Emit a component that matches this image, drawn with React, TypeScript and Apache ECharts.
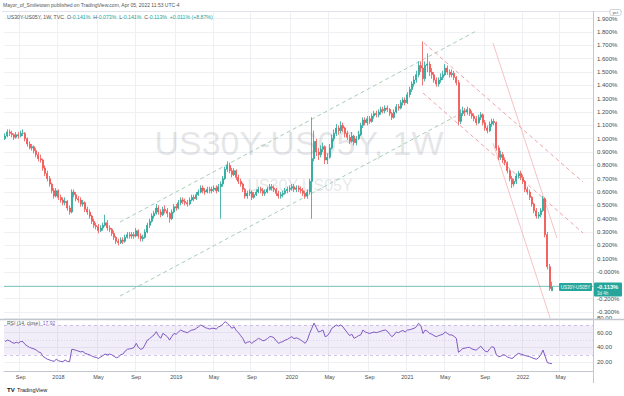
import React, { useEffect, useRef } from "react";
import * as echarts from "echarts";

// ---------- data ----------
const START_UTC = Date.UTC(2017, 6, 17); // first weekly bar (Mon 17 Jul 2017)
const TOTAL_WEEKS = 265; // bars + empty future space
const FIRST_OPEN = 1.0;
const LAST_OPEN = -0.141;

const closes = [
  1.02, 1.05, 1.04, 1.03, 1.01, 1.03, 1.02, 1.04, 1.04, 1.0,
  0.96, 0.93, 0.94, 0.91, 0.88, 0.85, 0.84, 0.78, 0.74, 0.7,
  0.66, 0.61, 0.57, 0.61, 0.56, 0.54, 0.52, 0.53, 0.48, 0.45,
  0.6, 0.58, 0.55, 0.54, 0.51, 0.52, 0.47, 0.45, 0.42, 0.38,
  0.35, 0.34, 0.31, 0.33, 0.35, 0.37, 0.33, 0.32, 0.29, 0.26,
  0.23, 0.22, 0.24, 0.23, 0.26, 0.28, 0.27, 0.28, 0.27, 0.31,
  0.27, 0.25, 0.26, 0.3, 0.35, 0.38, 0.42, 0.44, 0.48, 0.45,
  0.43, 0.47, 0.46, 0.44, 0.4, 0.45, 0.49, 0.48, 0.52, 0.54,
  0.53, 0.52, 0.51, 0.54, 0.56, 0.55, 0.58, 0.6, 0.63, 0.61,
  0.6, 0.62, 0.61, 0.62, 0.63, 0.61, 0.64, 0.66, 0.7, 0.77,
  0.8, 0.76, 0.73, 0.76, 0.71, 0.68, 0.66, 0.62, 0.57, 0.59,
  0.6, 0.56, 0.58, 0.6, 0.62, 0.61, 0.59, 0.6, 0.62, 0.64,
  0.63, 0.62, 0.59, 0.57, 0.58, 0.59, 0.61, 0.62, 0.63, 0.64,
  0.62, 0.63, 0.62, 0.61, 0.59, 0.57, 0.6, 0.68, 0.85, 0.98,
  0.9, 0.88, 0.92, 0.94, 0.84, 0.86, 0.93, 1.0, 1.04, 1.08,
  1.06, 1.1, 1.08, 1.04, 1.01, 0.98, 1.02, 0.97, 1.0, 1.03,
  1.1, 1.14, 1.12, 1.15, 1.13, 1.17, 1.19, 1.18, 1.2, 1.22,
  1.21, 1.23, 1.22, 1.19, 1.16, 1.2, 1.24, 1.23, 1.27, 1.29,
  1.27, 1.33, 1.37, 1.41, 1.44, 1.48, 1.55, 1.53, 1.45, 1.55,
  1.56, 1.5, 1.48, 1.44, 1.41, 1.44, 1.46, 1.48, 1.53, 1.5,
  1.48, 1.49, 1.46, 1.42, 1.13, 1.19, 1.21, 1.2, 1.22, 1.19,
  1.17, 1.15, 1.12, 1.16, 1.18, 1.12, 1.08, 1.06, 1.11, 1.13,
  1.12, 0.93, 0.86, 0.88, 0.84, 0.82, 0.76, 0.7, 0.66, 0.68,
  0.72, 0.74, 0.71, 0.68, 0.62, 0.6, 0.56, 0.51, 0.46, 0.42,
  0.43, 0.46, 0.55, 0.28, 0.04, -0.124, -0.113,
];

const highs = [
  1.04, 1.07, 1.07, 1.06, 1.04, 1.05, 1.05, 1.06, 1.07, 1.05,
  1.01, 0.98, 0.96, 0.95, 0.93, 0.9, 0.88, 0.85, 0.8, 0.76,
  0.72, 0.67, 0.63, 0.63, 0.62, 0.58, 0.56, 0.56, 0.54, 0.5,
  0.62, 0.62, 0.6, 0.57, 0.56, 0.54, 0.53, 0.49, 0.47, 0.43,
  0.4, 0.37, 0.36, 0.35, 0.37, 0.43, 0.39, 0.35, 0.33, 0.31,
  0.27, 0.25, 0.26, 0.26, 0.28, 0.3, 0.3, 0.3, 0.3, 0.33,
  0.32, 0.29, 0.28, 0.32, 0.37, 0.4, 0.44, 0.46, 0.51, 0.5,
  0.47, 0.49, 0.5, 0.48, 0.45, 0.47, 0.51, 0.51, 0.54, 0.56,
  0.56, 0.55, 0.54, 0.56, 0.58, 0.58, 0.6, 0.62, 0.65, 0.65,
  0.63, 0.64, 0.64, 0.64, 0.65, 0.65, 0.66, 0.68, 0.72, 0.79,
  0.83, 0.82, 0.78, 0.78, 0.77, 0.73, 0.7, 0.67, 0.63, 0.61,
  0.62, 0.61, 0.6, 0.62, 0.64, 0.64, 0.63, 0.62, 0.64, 0.66,
  0.66, 0.65, 0.63, 0.61, 0.6, 0.61, 0.63, 0.64, 0.65, 0.66,
  0.66, 0.65, 0.65, 0.64, 0.63, 0.61, 0.62, 0.7, 1.16, 1.06,
  1.0, 0.93, 0.95, 0.97, 0.95, 0.89, 0.96, 1.03, 1.07, 1.11,
  1.1, 1.13, 1.12, 1.09, 1.06, 1.03, 1.05, 1.03, 1.02, 1.06,
  1.12, 1.16, 1.16, 1.17, 1.17, 1.19, 1.21, 1.21, 1.22, 1.24,
  1.24, 1.25, 1.25, 1.23, 1.2, 1.22, 1.26, 1.26, 1.29, 1.31,
  1.31, 1.35, 1.39, 1.43, 1.47, 1.51, 1.58, 1.58, 1.73, 1.58,
  1.64, 1.58, 1.53, 1.5, 1.46, 1.46, 1.49, 1.51, 1.56, 1.55,
  1.52, 1.52, 1.51, 1.47, 1.44, 1.22, 1.24, 1.23, 1.24, 1.23,
  1.21, 1.19, 1.17, 1.18, 1.2, 1.19, 1.14, 1.1, 1.13, 1.15,
  1.15, 1.13, 0.95, 0.91, 0.9, 0.86, 0.83, 0.77, 0.72, 0.7,
  0.74, 0.76, 0.76, 0.73, 0.69, 0.64, 0.62, 0.57, 0.52, 0.48,
  0.45, 0.48, 0.57, 0.56, 0.3, 0.06, -0.073,
];

const lows = [
  0.99, 1.01, 1.02, 1.01, 0.99, 1.0, 1.0, 1.01, 1.02, 0.98,
  0.94, 0.92, 0.91, 0.89, 0.86, 0.83, 0.82, 0.76, 0.72, 0.68,
  0.64, 0.59, 0.55, 0.56, 0.54, 0.52, 0.5, 0.5, 0.46, 0.43,
  0.44, 0.56, 0.53, 0.52, 0.49, 0.49, 0.45, 0.43, 0.4, 0.36,
  0.33, 0.32, 0.29, 0.3, 0.31, 0.34, 0.31, 0.3, 0.27, 0.24,
  0.21, 0.2, 0.21, 0.21, 0.22, 0.25, 0.25, 0.25, 0.25, 0.26,
  0.25, 0.23, 0.23, 0.25, 0.29, 0.33, 0.37, 0.4, 0.43, 0.43,
  0.41, 0.42, 0.44, 0.41, 0.37, 0.39, 0.44, 0.46, 0.47, 0.5,
  0.51, 0.5, 0.49, 0.5, 0.53, 0.53, 0.54, 0.57, 0.59, 0.59,
  0.58, 0.59, 0.59, 0.59, 0.6, 0.59, 0.6, 0.4, 0.64, 0.69,
  0.75, 0.74, 0.71, 0.72, 0.69, 0.66, 0.64, 0.6, 0.55, 0.55,
  0.57, 0.54, 0.55, 0.57, 0.59, 0.59, 0.57, 0.57, 0.59, 0.61,
  0.61, 0.6, 0.57, 0.55, 0.55, 0.56, 0.58, 0.59, 0.6, 0.61,
  0.6, 0.6, 0.6, 0.59, 0.57, 0.55, 0.55, 0.58, 0.4, 0.83,
  0.87, 0.84, 0.86, 0.9, 0.81, 0.81, 0.85, 0.92, 0.98, 1.02,
  1.03, 1.04, 1.05, 1.01, 0.99, 0.96, 0.97, 0.95, 0.95, 0.99,
  1.02, 1.08, 1.1, 1.1, 1.11, 1.12, 1.15, 1.16, 1.16, 1.18,
  1.19, 1.19, 1.2, 1.17, 1.14, 1.15, 1.19, 1.21, 1.22, 1.25,
  1.25, 1.26, 1.31, 1.35, 1.39, 1.42, 1.46, 1.5, 1.4, 1.43,
  1.5, 1.47, 1.45, 1.42, 1.39, 1.39, 1.42, 1.44, 1.47, 1.48,
  1.46, 1.46, 1.44, 1.4, 1.1, 1.11, 1.17, 1.17, 1.18, 1.17,
  1.15, 1.13, 1.1, 1.11, 1.14, 1.1, 1.06, 1.04, 1.05, 1.09,
  1.1, 0.91, 0.84, 0.84, 0.82, 0.8, 0.74, 0.68, 0.63, 0.64,
  0.66, 0.7, 0.69, 0.66, 0.6, 0.58, 0.54, 0.49, 0.44, 0.4,
  0.4, 0.41, 0.45, 0.26, 0.02, -0.14, -0.141,
];

const rsiValues = [
  48, 50, 49, 47, 45.6, 47, 46, 48, 48, 44,
  42, 40, 39, 38, 36.5, 34, 33, 28, 26, 24,
  23, 22, 21, 24, 22, 21, 20.7, 23, 21, 20.7,
  37.5, 37, 36, 35, 34, 34.5, 32, 31, 30, 28.4,
  27, 26.5, 25, 27, 29, 31, 30, 31, 30, 28,
  26, 27, 30, 31, 35, 37.5, 38, 38.6, 40, 45.6,
  40, 37.5, 38.6, 44, 50, 52, 54.6, 57, 61.4, 56,
  52.4, 59.2, 57, 54.6, 50, 55, 59, 58, 61, 63.7,
  62, 61, 60, 62, 63.7, 64, 66, 68, 70.5, 69,
  67, 66, 65, 66, 66, 65, 68, 69, 72, 75,
  72.8, 70, 66, 68, 63, 60, 56, 52, 45.6, 47,
  48, 45.6, 48, 50, 52.4, 51, 49, 50, 52, 54.6,
  54.6, 53, 49, 45.6, 47, 48, 50, 51, 53, 54.6,
  52, 53, 52, 50, 48, 45.6, 50, 59, 66, 73,
  67, 61, 62, 63.7, 54.6, 56, 60, 66, 68, 70.5,
  69, 70.5, 68, 63.7, 60, 56, 58, 52.4, 54, 56,
  57, 63.7, 61, 60, 59, 60, 61, 60, 61, 62,
  63, 63.7, 62, 58, 54.6, 57, 61, 60, 62, 63,
  61, 63.7, 64, 65, 66, 68, 72.8, 70, 59, 63.7,
  62, 59, 58, 56, 54.6, 56, 57, 58, 61, 59,
  57, 57, 55, 52.4, 33.4, 36, 38.8, 39, 40, 40,
  38, 37, 36.5, 39, 41.8, 38, 35, 34, 38, 41,
  40, 30, 27.5, 28, 30, 29.5, 27, 26, 25, 27,
  30, 32, 31, 30, 29, 28, 27.5, 26, 25, 24,
  26, 30, 36.5, 27.5, 19.3, 18.5, 17.92,
];

// drawing-tool lines: [weekIndex, price%]
const greenUpper = [[51.7, 0.375], [212.8, 1.815]];
const greenLower = [[51.7, -0.18], [202.9, 1.17]];
const redUpper = [[188.5, 1.718], [260, 0.675]];
const redLower = [[188, 1.343], [260, 0.293]];
const pinkA = [[219.5, 1.718], [248.3, 0.255]];
const pinkB = [[219.5, 0.968], [245.2, -0.345]];

// grid lines every 0.1%; the -0.100% label sits under the last-price tag
const PRICE_TICKS = [-0.3, -0.2, -0.1, 0, 0.1, 0.2, 0.3, 0.4, 0.5, 0.6, 0.7, 0.8, 0.9, 1.0, 1.1, 1.2, 1.3, 1.4, 1.5, 1.6, 1.7, 1.8, 1.9];
const PRICE_LABELS = [-0.3, -0.2, 0, 0.1, 0.2, 0.3, 0.4, 0.5, 0.6, 0.7, 0.8, 0.9, 1.0, 1.1, 1.2, 1.3, 1.4, 1.5, 1.6, 1.7, 1.8, 1.9];
const RSI_TICKS = [20, 40, 60, 80];
const RSI_BAND = [30, 70];
const MONTH_NAMES = ["Jan", "Feb", "Mar", "Apr", "May", "Jun", "Jul", "Aug", "Sep", "Oct", "Nov", "Dec"];
const LABEL_MONTHS = [0, 4, 8];

const SYMBOL = "US30Y-US05Y";
const HEADER = "Mayor_of_Smiletown published on TradingView.com, Apr 05, 2022 11:53 UTC-4";
const LEGEND_VALUES = { O: "-0.141%", H: "-0.073%", L: "-0.141%", C: "-0.113%", chg: "+0.011% (+8.87%)" };
const RSI_LAST = "17.92";

// ---------- derived ----------
const weekDates = Array.from({ length: TOTAL_WEEKS }, (_, i) => new Date(START_UTC + i * 7 * 86400000));
const categories = weekDates.map((d) => d.toISOString().slice(0, 10));
const isLabelWeek = (i: number) => {
  const d = weekDates[i];
  return !!d && LABEL_MONTHS.includes(d.getUTCMonth()) && d.getUTCDate() <= 7;
};
const labelText = (i: number) => {
  const d = weekDates[i];
  return d.getUTCMonth() === 0 ? String(d.getUTCFullYear()) : MONTH_NAMES[d.getUTCMonth()];
};
const opens = closes.map((c, i) => (i === 0 ? FIRST_OPEN : i === closes.length - 1 ? LAST_OPEN : closes[i - 1]));
const candleData = closes.map((c, i) => [opens[i], c, lows[i], highs[i]]);

const FONT = "Liberation Sans, Arial, sans-serif";
const UP = "#26a69a";
const DOWN = "#ef5350";
const GRID_COLOR = "#eef0f4";

const PRICE_MIN = -0.36;
const PRICE_MAX = 1.958;
const RSI_MIN = 8;
const RSI_MAX = 80;

const fmtPrice = (v: number) => (Math.abs(v) < 1e-9 ? "-0.000%" : v.toFixed(3) + "%");

function trend(data: number[][], color: string, dashed: boolean, width = 1) {
  return {
    type: "line",
    xAxisIndex: 2,
    yAxisIndex: 0,
    data,
    symbol: "none",
    silent: true,
    z: 3,
    lineStyle: { color, width, type: dashed ? [4, 3] : "solid" },
  };
}

export default function App() {
  const ref = useRef<HTMLDivElement>(null);
  useEffect(() => {
    if (!ref.current) return;
    const chart = echarts.init(ref.current, null, { renderer: "svg" });
    const option: any = {
      animation: false,
      backgroundColor: "#ffffff",
      textStyle: { fontFamily: FONT },
      grid: [
        { left: 4, right: 31, top: 11, height: 309 },
        { left: 4, right: 31, top: 318, height: 53 },
      ],
      xAxis: [
        {
          type: "category",
          gridIndex: 0,
          data: categories,
          boundaryGap: true,
          axisLine: { show: false },
          axisTick: { show: false, interval: (i: number) => isLabelWeek(i), alignWithLabel: true },
          axisLabel: { show: false },
          splitLine: { show: true, interval: (i: number) => isLabelWeek(i), lineStyle: { color: GRID_COLOR, width: 1 } },
        },
        {
          type: "category",
          gridIndex: 1,
          data: categories,
          boundaryGap: true,
          axisLine: { show: true, lineStyle: { color: "#c3c6ce", width: 1 } },
          axisTick: { show: false, interval: (i: number) => isLabelWeek(i), alignWithLabel: true },
          axisLabel: {
            interval: (i: number) => isLabelWeek(i),
            formatter: (_v: string, i: number) => labelText(i),
            fontSize: 5.5,
            color: "#4a4a4a",
            margin: 3,
            fontFamily: FONT,
          },
          splitLine: { show: true, interval: (i: number) => isLabelWeek(i), lineStyle: { color: GRID_COLOR, width: 1 } },
        },
        { type: "value", gridIndex: 0, min: -0.5, max: TOTAL_WEEKS - 0.5, show: false },
      ],
      yAxis: [
        {
          type: "value",
          gridIndex: 0,
          position: "right",
          min: PRICE_MIN,
          max: PRICE_MAX,
          axisLine: { show: false },
          axisTick: { show: false, customValues: PRICE_TICKS },
          axisLabel: { customValues: PRICE_LABELS, formatter: fmtPrice, fontSize: 6, color: "#4a4a4a", margin: 4, fontFamily: FONT },
          splitLine: { show: true, lineStyle: { color: GRID_COLOR, width: 1 } },
        },
        {
          type: "value",
          gridIndex: 1,
          position: "right",
          min: RSI_MIN,
          max: RSI_MAX,
          axisLine: { show: false },
          axisTick: { show: false, customValues: RSI_TICKS },
          axisLabel: { customValues: RSI_TICKS, formatter: (v: number) => v.toFixed(2), fontSize: 6, color: "#4a4a4a", margin: 4, fontFamily: FONT },
          splitLine: { show: true, lineStyle: { color: GRID_COLOR, width: 1 } },
        },
      ],
      series: [
        {
          type: "candlestick",
          xAxisIndex: 0,
          yAxisIndex: 0,
          data: candleData,
          barWidth: 1.5,
          z: 4,
          itemStyle: { color: UP, color0: DOWN, borderColor: UP, borderColor0: DOWN, borderWidth: 0.8 },
          markLine: {
            silent: true,
            symbol: "none",
            label: { show: false },
            lineStyle: { color: UP, width: 0.8, type: "solid", opacity: 0.7 },
            data: [{ yAxis: closes[closes.length - 1] }],
          },
        },
        trend(greenUpper, "#a9cdb7", true),
        trend(greenLower, "#a9cdb7", true),
        trend(redUpper, "#f2a2a7", true),
        trend(redLower, "#f2a2a7", true),
        trend(pinkA, "#f5b3b6", false, 0.8),
        trend(pinkB, "#f5b3b6", false, 0.8),
        {
          type: "line",
          xAxisIndex: 1,
          yAxisIndex: 1,
          data: rsiValues,
          symbol: "none",
          lineStyle: { color: "#7e57c2", width: 1 },
          markArea: {
            silent: true,
            itemStyle: { color: "rgba(126,87,194,0.1)" },
            data: [[{ yAxis: RSI_BAND[0] }, { yAxis: RSI_BAND[1] }]],
          },
          markLine: {
            silent: true,
            symbol: "none",
            label: { show: false },
            lineStyle: { color: "rgba(150,120,200,0.55)", width: 0.8, type: [3, 3] },
            data: [{ yAxis: RSI_BAND[1] }, { yAxis: 50, lineStyle: { color: "rgba(150,120,200,0.3)", type: [1, 2] } }, { yAxis: RSI_BAND[0] }],
          },
        },
      ],
    };
    chart.setOption(option);

    const yLast = chart.convertToPixel({ yAxisIndex: 0 }, closes[closes.length - 1]) as number;
    const t = (x: number, y: number, text: string, size: number, fill: string, extra: any = {}) => ({
      type: "text",
      x,
      y,
      silent: true,
      z: 100,
      style: { text, fontSize: size, fill, fontFamily: FONT, textVerticalAlign: "middle", ...extra },
    });
    const graphic: any[] = [
      // watermark
      { type: "text", x: 299, y: 143, z: 0, silent: true, style: { text: SYMBOL + ", 1W", fontSize: 34, fill: "rgba(140,143,152,0.22)", fontFamily: FONT, textAlign: "center", textVerticalAlign: "middle" } },
      { type: "text", x: 300, y: 185, z: 0, silent: true, style: { text: SYMBOL, fontSize: 16, fill: "rgba(140,143,152,0.22)", fontFamily: FONT, textAlign: "center", textVerticalAlign: "middle" } },
      // header + frame
      t(3, 5, HEADER, 5, "#555"),
      { type: "line", silent: true, z: 100, shape: { x1: 2, y1: 11.5, x2: 622, y2: 11.5 }, style: { stroke: "#e0e3eb", lineWidth: 1 } },
      { type: "line", silent: true, z: 100, shape: { x1: 593.5, y1: 11, x2: 593.5, y2: 383 }, style: { stroke: "#c3c6ce", lineWidth: 1 } },
      { type: "line", silent: true, z: 100, shape: { x1: 0, y1: 319.5, x2: 624, y2: 319.5 }, style: { stroke: "#c3c6ce", lineWidth: 1.6 } },
      // legend
      {
        type: "text",
        x: 7,
        y: 17,
        z: 100,
        silent: true,
        style: {
          text: `{a|${SYMBOL}, 1W, TVC}  {a|O}{b|${LEGEND_VALUES.O}}  {a|H}{b|${LEGEND_VALUES.H}}  {a|L}{b|${LEGEND_VALUES.L}}  {a|C}{b|${LEGEND_VALUES.C}}  {b|${LEGEND_VALUES.chg}}`,
          textVerticalAlign: "middle",
          fontFamily: FONT,
          fontSize: 5.2,
          rich: { a: { fill: "#555", fontSize: 5.2, fontFamily: FONT }, b: { fill: UP, fontSize: 5.2, fontFamily: FONT } },
        },
      },
      {
        type: "text",
        x: 7,
        y: 323,
        z: 100,
        silent: true,
        style: {
          text: `{a|RSI (14, close)}  {b|${RSI_LAST}}`,
          textVerticalAlign: "middle",
          fontFamily: FONT,
          fontSize: 5,
          rich: { a: { fill: "#555", fontSize: 5, fontFamily: FONT }, b: { fill: "#7e57c2", fontSize: 5, fontFamily: FONT } },
        },
      },
      // pct box (kept above the 1.900% label)
      { type: "rect", silent: true, z: 100, shape: { x: 610, y: 9.5, width: 11, height: 6, r: 1.5 }, style: { fill: "#fff", stroke: "#b2b5be", lineWidth: 0.6 } },
      t(615.5, 12.5, "pct", 4, "#555", { textAlign: "center" }),
      // last price labels
      { type: "rect", silent: true, z: 100, shape: { x: 559, y: yLast - 4, width: 33, height: 8, r: 1 }, style: { fill: UP } },
      t(575.5, yLast, SYMBOL, 4.5, "#fff", { textAlign: "center" }),
      { type: "rect", silent: true, z: 100, shape: { x: 594, y: yLast - 4.5, width: 28, height: 14, r: 1 }, style: { fill: UP } },
      t(597, yLast, fmtPrice(closes[closes.length - 1]), 5.8, "#fff", { fontWeight: "bold" }),
      t(597, yLast + 6, "3d 4h", 4.5, "#e6f5f3"),
      // logo
      t(7, 390, "TV", 6, "#131722", { fontWeight: "bold" }),
      t(17, 390, "TradingView", 5.5, "#131722"),
    ];
    chart.setOption({ graphic });
    return () => chart.dispose();
  }, []);
  return <div ref={ref} style={{ position: "fixed", left: 0, top: 0, width: 624, height: 396 }} />;
}
